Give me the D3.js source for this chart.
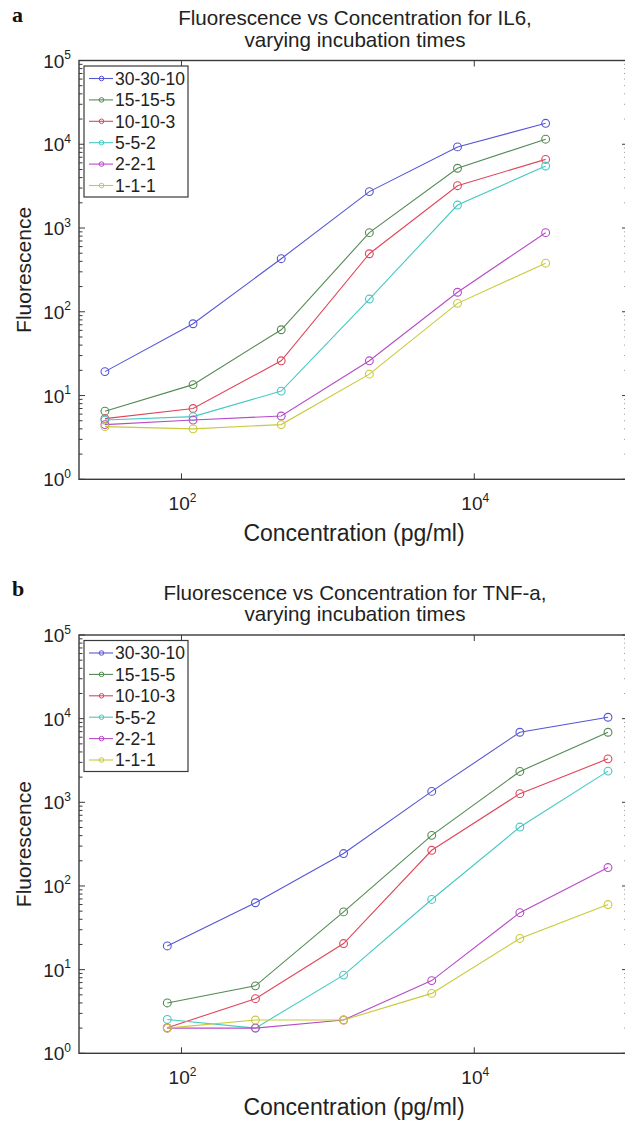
<!DOCTYPE html>
<html>
<head>
<meta charset="utf-8">
<script src="https://cdn.jsdelivr.net/npm/d3@7"></script>
<style>
  html, body { margin: 0; padding: 0; background: #fff; }
  svg { display: block; }
</style>
</head>
<body>
<svg id="chart" width="625" height="1125"></svg>
<script>
const seriesNames = ["30-30-10", "15-15-5", "10-10-3", "5-5-2", "2-2-1", "1-1-1"];
const seriesColors = ["#5656d6", "#548a54", "#e0465a", "#45c9c2", "#b64cc6", "#c9c93a"];

// IL6 panel (a)
const il6Conc = [30, 120, 480, 1920, 7680, 30720];
const il6Fluor = [
  [19.3, 72, 430, 2720, 9300, 17800],
  [6.5, 13.5, 61, 880, 5170, 11500],
  [5.3, 7.0, 26, 493, 3200, 6600],
  [5.1, 5.6, 11.3, 142, 1880, 5500],
  [4.5, 5.1, 5.7, 26, 171, 880],
  [4.25, 4.0, 4.5, 18, 126, 380]
];

// TNF-a panel (b)
const tnfConc = [80, 320, 1280, 5120, 20480, 81920];
const tnfFluor = [
  [19.2, 63, 244, 1350, 6880, 10400],
  [4.0, 6.4, 49, 403, 2340, 6880],
  [2.02, 4.5, 20.5, 267, 1270, 3310],
  [2.54, 2.0, 8.6, 69, 506, 2360],
  [2.0, 2.0, 2.5, 7.4, 48, 166],
  [2.0, 2.5, 2.5, 5.2, 23.6, 60]
];

const xTicks = [2, 4];          // exponents of 10
const yTicks = [0, 1, 2, 3, 4, 5];
const xDomain = [Math.pow(10, 1.3), Math.pow(10, 5.05)];
const yDomain = [1, 1e5];

const svg = d3.select("#chart");
const font = "'Liberation Sans', Arial, sans-serif";
const axisColor = "#3a3a3a";
const textColor = "#222";

drawPanel({
  letter: "a",
  title: ["Fluorescence vs Concentration for IL6,", "varying incubation times"],
  conc: il6Conc,
  values: il6Fluor,
  top: 60.5,
  bottom: 479.3
});

drawPanel({
  letter: "b",
  title: ["Fluorescence vs Concentration for TNF-a,", "varying incubation times"],
  conc: tnfConc,
  values: tnfFluor,
  top: 635,
  bottom: 1053.3
});

function drawPanel(p) {
  const left = 79;
  const right = 628;
  const x = d3.scaleLog().domain(xDomain).range([left, right]);
  const y = d3.scaleLog().domain(yDomain).range([p.bottom, p.top]);
  const g = svg.append("g");
  const midX = (left + right) / 2;

  // panel letter
  g.append("text")
    .attr("x", 12).attr("y", p.top - 39)
    .attr("font-family", "'Liberation Serif', 'DejaVu Serif', serif")
    .attr("font-weight", "bold")
    .attr("font-size", 22)
    .attr("fill", "#111")
    .text(p.letter);

  // title
  p.title.forEach((line, i) => {
    g.append("text")
      .attr("x", 355).attr("y", p.top - 35.5 + i * 21.5)
      .attr("text-anchor", "middle")
      .attr("font-family", font)
      .attr("font-size", 20.6)
      .attr("fill", textColor)
      .text(line);
  });

  // series lines and markers
  const line = d3.line()
    .x((d) => x(d[0]))
    .y((d) => y(d[1]));

  p.values.forEach((vals, si) => {
    const pts = vals.map((v, i) => [p.conc[i], v]);
    g.append("path")
      .attr("d", line(pts))
      .attr("fill", "none")
      .attr("stroke", seriesColors[si])
      .attr("stroke-width", 1.1);
    g.selectAll(null).data(pts).join("circle")
      .attr("cx", (d) => x(d[0]))
      .attr("cy", (d) => y(d[1]))
      .attr("r", 3.9)
      .attr("fill", "none")
      .attr("stroke", seriesColors[si])
      .attr("stroke-width", 1.1);
  });

  // axes box
  g.append("rect")
    .attr("x", left).attr("y", p.top)
    .attr("width", right - left).attr("height", p.bottom - p.top)
    .attr("fill", "none")
    .attr("stroke", axisColor)
    .attr("stroke-width", 1.4);

  // y ticks, major and minor, on both sides
  const ticks = g.append("g").attr("stroke", axisColor).attr("stroke-width", 1);
  for (let k = 0; k <= 5; k++) {
    const v = Math.pow(10, k);
    ticks.append("line").attr("x1", left).attr("x2", left + 6).attr("y1", y(v)).attr("y2", y(v));
    ticks.append("line").attr("x1", right).attr("x2", right - 6).attr("y1", y(v)).attr("y2", y(v));
    if (k === 5) break;
    for (let m = 2; m <= 9; m++) {
      const mv = m * v;
      ticks.append("line").attr("x1", left).attr("x2", left + 3.5).attr("y1", y(mv)).attr("y2", y(mv));
      ticks.append("line").attr("x1", right).attr("x2", right - 3.5).attr("y1", y(mv)).attr("y2", y(mv));
    }
  }

  // x ticks top and bottom
  xTicks.forEach((e) => {
    const xv = x(Math.pow(10, e));
    ticks.append("line").attr("x1", xv).attr("x2", xv).attr("y1", p.bottom).attr("y2", p.bottom - 6);
    ticks.append("line").attr("x1", xv).attr("x2", xv).attr("y1", p.top).attr("y2", p.top + 6);
  });

  // tick labels
  yTicks.forEach((e) => {
    const t = g.append("text")
      .attr("x", 71).attr("y", y(Math.pow(10, e)) + 7)
      .attr("text-anchor", "end")
      .attr("font-family", font)
      .attr("font-size", 19)
      .attr("fill", textColor);
    powerLabel(t, e);
  });

  xTicks.forEach((e) => {
    const t = g.append("text")
      .attr("x", x(Math.pow(10, e)) + 1).attr("y", p.bottom + 31)
      .attr("text-anchor", "middle")
      .attr("font-family", font)
      .attr("font-size", 19)
      .attr("fill", textColor);
    powerLabel(t, e);
  });

  // axis titles
  g.append("text")
    .attr("transform", `translate(31,${(p.top + p.bottom) / 2}) rotate(-90)`)
    .attr("text-anchor", "middle")
    .attr("font-family", font)
    .attr("font-size", 21)
    .attr("fill", textColor)
    .text("Fluorescence");

  g.append("text")
    .attr("x", 354).attr("y", p.bottom + 61.5)
    .attr("text-anchor", "middle")
    .attr("font-family", font)
    .attr("font-size", 23)
    .attr("fill", textColor)
    .text("Concentration (pg/ml)");

  // legend
  const lx = 84;
  const ly = p.top + 5.5;
  const rowH = 21.4;
  const legend = g.append("g");
  legend.append("rect")
    .attr("x", lx).attr("y", ly)
    .attr("width", 104).attr("height", 131)
    .attr("fill", "#fff")
    .attr("stroke", axisColor)
    .attr("stroke-width", 1.2);

  seriesNames.forEach((name, i) => {
    const ry = ly + 12.5 + i * rowH;
    legend.append("line")
      .attr("x1", lx + 5).attr("x2", lx + 29)
      .attr("y1", ry).attr("y2", ry)
      .attr("stroke", seriesColors[i])
      .attr("stroke-width", 1.1);
    legend.append("circle")
      .attr("cx", lx + 17.5).attr("cy", ry)
      .attr("r", 2.3)
      .attr("fill", "none")
      .attr("stroke", seriesColors[i])
      .attr("stroke-width", 1);
    legend.append("text")
      .attr("x", lx + 31).attr("y", ry + 6.3)
      .attr("font-family", font)
      .attr("font-size", 17.5)
      .attr("fill", textColor)
      .text(name);
  });
}

function powerLabel(sel, exp) {
  sel.append("tspan").text("10");
  sel.append("tspan").attr("dy", -8.5).attr("font-size", 12).text(exp);
}
</script>
</body>
</html>
